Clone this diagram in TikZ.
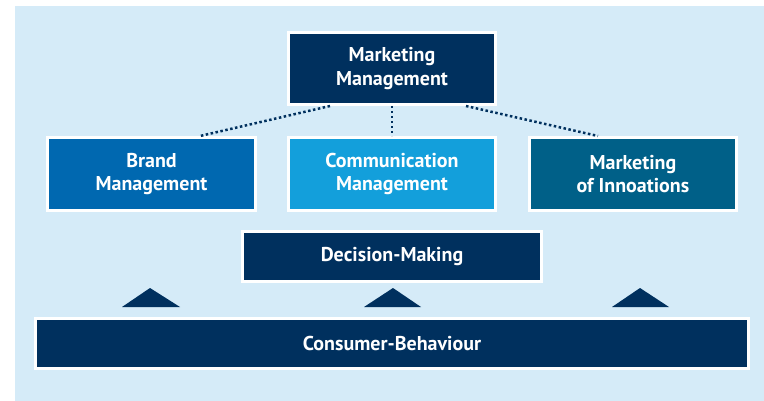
\documentclass[tikz,border=0pt]{standalone}
\usepackage{fontspec}
\setmainfont{PT Sans}
\usepackage{tikz}

\definecolor{navy}{RGB}{0,48,94}
\definecolor{brandblue}{RGB}{0,104,176}
\definecolor{commblue}{RGB}{19,159,219}
\definecolor{innovblue}{RGB}{0,96,136}
\definecolor{backblue}{RGB}{213,235,248}

\begin{document}
\begin{tikzpicture}[x=1pt, y=-1pt,
    box/.style={draw=white, line width=3pt, text=white, align=center,
      font=\fontsize{20}{23.5}\selectfont\bfseries, inner sep=0pt},
    dotline/.style={navy, line width=2.5pt, dash pattern=on 2.5pt off 2.5pt}]
    \useasboundingbox (0, 0) rectangle (764, 401);
    \fill[backblue] (15, 6) rectangle (764, 401);

    \node[box, fill=navy, minimum width=207pt, minimum height=72pt] (mm) at (392, 68.5) {Marketing\\Management};
    \node[box, fill=brandblue, minimum width=208pt, minimum height=73pt] (brand) at (151.5, 174) {Brand\\Management};
    \node[box, fill=commblue, minimum width=207pt, minimum height=73pt] (comm) at (392, 174) {Communication\\Management};
    \node[box, fill=innovblue, minimum width=207pt, minimum height=73pt] (innov) at (633, 174) {Marketing\\of Innoations};
    \node[box, fill=navy, minimum width=299pt, minimum height=50pt] (dec) at (392, 256.5) {Decision-Making};
    \node[box, fill=navy, minimum width=713pt, minimum height=50pt] (cons) at (392, 343.5) {Consumer-Behaviour};

    \draw[dotline] ([xshift=-62pt]mm.south) -- ([xshift=48.5pt]brand.north);
    \draw[dotline] (mm.south) -- (comm.north);
    \draw[dotline] ([xshift=74pt]mm.south) -- ([xshift=-35pt]innov.north);

    \fill[navy] (122, 307) -- (150, 288) -- (180, 307) -- cycle;
    \fill[navy] (364, 307) -- (393, 288) -- (421, 307) -- cycle;
    \fill[navy] (612, 307) -- (640, 288) -- (669, 307) -- cycle;
  \end{tikzpicture}
\end{document}
